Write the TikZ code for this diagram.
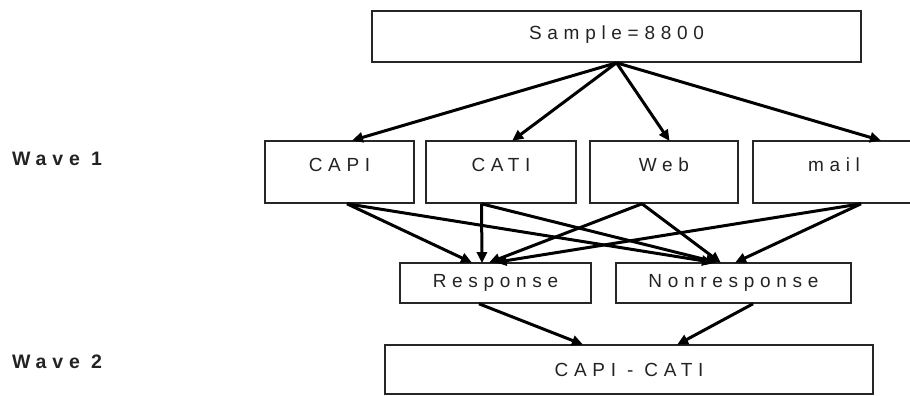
\documentclass[tikz,border=0pt]{standalone}
\usepackage{fontspec}
\setmainfont{Liberation Sans}[LetterSpace=30]
\usetikzlibrary{arrows.meta,calc}
\definecolor{txt}{RGB}{35,35,35}
\begin{document}
\begin{tikzpicture}[x=1pt,y=-1pt,
  box/.style={draw=black!85,line width=1.6pt,rectangle,inner sep=0pt,text=txt,
    font=\fontsize{19}{19}\selectfont},
  wbox/.style={box,text height=30.5pt,text depth=31.5pt},
  arr/.style={line width=3pt,draw=black,-{Triangle[length=11pt,width=10pt]},shorten >=-1pt},
  wave/.style={font=\fontsize{19.5}{19.5}\selectfont\bfseries,text=txt,anchor=west,inner sep=0pt}]
\clip (0,0) rectangle (910,396);
\useasboundingbox (0,0) rectangle (910,396);
% top
\node[box,minimum width=489pt,text height=29pt,text depth=22pt] (sample) at (616.5,36.5) {Sample=8800};
% wave 1
\node[wbox,minimum width=149pt] (capi) at (339.5,172) {CAPI};
\node[wbox,minimum width=150pt] (cati) at (501,172) {CATI};
\node[wbox,minimum width=148pt] (web) at (664,172) {Web};
\node[wbox,minimum width=162pt] (mail) at (834,172) {mail};
% outcomes
\node[box,minimum width=191pt,minimum height=40pt] (resp) at (495.5,283) {Response};
\node[box,minimum width=235pt,minimum height=40pt] (nonr) at (733.5,283) {Nonresponse};
% wave 2
\node[box,minimum width=488pt,minimum height=49pt] (ci) at (629,369.5) {CAPI - CATI};
% labels
\node[wave] (w1) at (12,158.5) {Wave 1};
\node[wave] (w2) at (12,362) {Wave 2};
% arrows from sample
\draw[arr] (sample.south) -- ([xshift=13.5pt]capi.north);
\draw[arr] (sample.south) -- ([xshift=12pt]cati.north);
\draw[arr] (sample.south) -- ([xshift=5pt]web.north);
\draw[arr] (sample.south) -- ([xshift=46pt]mail.north);
% wave 1 to outcomes
\draw[arr] ([xshift=7.5pt]capi.south) -- ([xshift=-24.5pt]resp.north);
\draw[arr] ([xshift=7.5pt]capi.south) -- ([xshift=-21.5pt]nonr.north);
\draw[arr] ([xshift=-19.5pt]cati.south) -- ([xshift=-13.5pt]resp.north);
\draw[arr] ([xshift=-19.5pt]cati.south) -- ([xshift=-17.5pt]nonr.north);
\draw[arr] ([xshift=-22pt]web.south) -- ([xshift=-5.5pt]resp.north);
\draw[arr] ([xshift=-22pt]web.south) -- ([xshift=-13.5pt]nonr.north);
\draw[arr] ([xshift=27pt]mail.south) -- ([xshift=1pt]resp.north);
\draw[arr] ([xshift=27pt]mail.south) -- ([xshift=2.5pt]nonr.north);
% outcomes to wave 2
\draw[arr] ([xshift=-16.5pt]resp.south) -- ([xshift=-47pt]ci.north);
\draw[arr] ([xshift=19.5pt]nonr.south) -- ([xshift=49pt]ci.north);
\end{tikzpicture}
\end{document}
